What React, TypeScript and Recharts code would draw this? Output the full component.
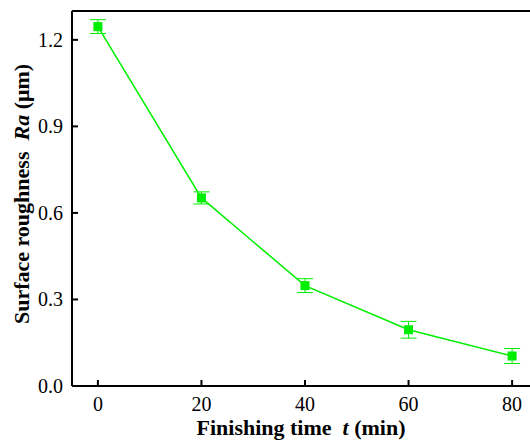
import React from "react";
import { LineChart, Line, XAxis, YAxis, ErrorBar, ReferenceLine } from "recharts";

const times = [0, 20, 40, 60, 80];
const roughness = [1.246, 0.652, 0.348, 0.195, 0.104];
const roughnessErr = [0.024, 0.021, 0.024, 0.029, 0.026];
const xTicks = [0, 20, 40, 60, 80];
const yTicks = [0, 0.3, 0.6, 0.9, 1.2];

const data = times.map((t, i) => ({ t, ra: roughness[i], err: roughnessErr[i] }));

const FONT = "Liberation Serif, Times New Roman, serif";
const GREEN = "#00ee00";

const XTick = (props: any) => {
  const { x, y, payload } = props;
  const axisY = y - 11;
  return (
    <g>
      <line x1={x} x2={x} y1={axisY} y2={axisY - 6} stroke="#000" strokeWidth={2} />
      <text x={x} y={y} dy="0.71em" textAnchor="middle" fontSize={20} style={{ fontFamily: FONT }} fill="#000">
        {payload.value}
      </text>
    </g>
  );
};

const YTick = (props: any) => {
  const { x, y, payload } = props;
  const axisX = x + 9;
  return (
    <g>
      <line x1={axisX} x2={axisX + 6} y1={y} y2={y} stroke="#000" strokeWidth={2} />
      <text x={x} y={y} dy="0.35em" textAnchor="end" fontSize={20} style={{ fontFamily: FONT }} fill="#000">
        {Number(payload.value).toFixed(1)}
      </text>
    </g>
  );
};

const SquareDot = (props: any) => {
  const { cx, cy, index } = props;
  return <rect key={`d${index}`} x={cx - 4.5} y={cy - 4.5} width={9} height={9} fill={GREEN} />;
};

const App = () => {
  return (
    <div style={{ position: "absolute", left: 0, top: 0, width: 530, height: 442, overflow: "hidden" }}>
      <LineChart width={540} height={442} data={data} margin={{ top: 11, right: 2, bottom: 0, left: 0 }}>
        <XAxis
          dataKey="t"
          type="number"
          domain={[-5, 85]}
          ticks={xTicks}
          height={56}
          stroke="#000"
          strokeWidth={2}
          tickLine={false}
          tickSize={0}
          tickMargin={11}
          tick={<XTick />}
          label={{
            position: "insideBottom",
            content: () => (
              <text
                x={301}
                y={435}
                textAnchor="middle"
                fontSize={22}
                fontWeight="bold"
                style={{ fontFamily: FONT, whiteSpace: "pre" }}
              >
                {"Finishing time  "}
                <tspan fontStyle="italic">t</tspan>
                {" (min)"}
              </text>
            ),
          }}
        />
        <YAxis
          type="number"
          domain={[0, 1.3]}
          ticks={yTicks}
          width={72}
          stroke="#000"
          strokeWidth={2}
          tickLine={false}
          tickSize={0}
          tickMargin={9}
          tick={<YTick />}
          label={{
            position: "insideLeft",
            content: () => (
              <text
                x={29}
                y={194}
                transform="rotate(-90 29 194)"
                textAnchor="middle"
                fontSize={22}
                fontWeight="bold"
                style={{ fontFamily: FONT, whiteSpace: "pre" }}
              >
                {"Surface roughness  "}
                <tspan fontStyle="italic">Ra</tspan>
                {" (μm)"}
              </text>
            ),
          }}
        />
        <ReferenceLine y={1.3} stroke="#000" strokeWidth={2} />
        <Line
          type="linear"
          dataKey="ra"
          stroke={GREEN}
          strokeWidth={1.5}
          dot={<SquareDot />}
          activeDot={false}
          isAnimationActive={false}
        >
          <ErrorBar dataKey="err" width={8} stroke={GREEN} strokeWidth={1} />
        </Line>
      </LineChart>
    </div>
  );
};

export default App;
